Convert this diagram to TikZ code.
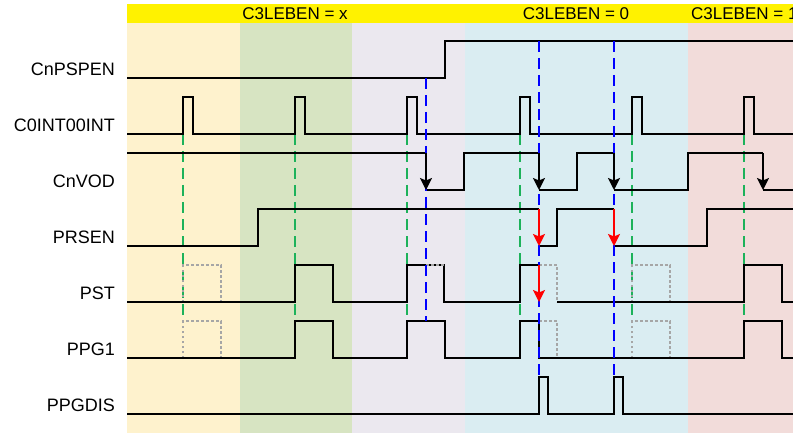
\documentclass[tikz,border=0pt]{standalone}
\usepackage{fontspec}
\setmainfont{Liberation Sans}
\usepackage{xcolor}
\usepackage{tikz}
\usetikzlibrary{arrows.meta}
\definecolor{phaseyellow}{HTML}{FEF2CD}
\definecolor{phasegreen}{HTML}{D7E4C2}
\definecolor{phasepurple}{HTML}{EBE8EF}
\definecolor{phaseblue}{HTML}{DAEDF2}
\definecolor{phasepink}{HTML}{F2DCDA}
\definecolor{tickgreen}{HTML}{1DB25A}
\definecolor{probeblue}{HTML}{0000FF}
\definecolor{ghostgray}{HTML}{A6A6A6}

\begin{document}
\begin{tikzpicture}[
  x=1pt, y=-1pt,
  signal/.style={draw=black, line width=1.8pt, line join=miter},
  fall/.style={signal, -{Stealth[length=12pt, width=12pt, inset=2.5pt]}},
  redfall/.style={fall, draw=red, fill=red},
  tick/.style={draw=tickgreen, line width=1.8pt, dash pattern=on 11pt off 6pt},
  probe/.style={draw=probeblue, line width=1.8pt, dash pattern=on 11pt off 6pt},
  ghost/.style={draw=ghostgray, line width=1.6pt, dash pattern=on 2.5pt off 2.5pt},
  signame/.style={anchor=base east, font=\fontsize{18}{21}\selectfont, inner sep=0pt},
  band/.style={font=\fontsize{17}{20}\selectfont, inner sep=0pt}
]
\useasboundingbox (0,0) rectangle (793,433);
\clip (0,0) rectangle (793,433);
\fill[phaseyellow] (127,4) rectangle (240,433);
\fill[phasegreen] (240,4) rectangle (352,433);
\fill[phasepurple] (352,4) rectangle (465,433);
\fill[phaseblue] (465,4) rectangle (688,433);
\fill[phasepink] (688,4) rectangle (793,433);
\fill[yellow] (127,4) rectangle (793,23);
\node[band] (lebx) at (295,13.5) {C3LEBEN = x};
\node[band] (leb0) at (576,13.5) {C3LEBEN = 0};
\node[band, anchor=west] (leb1) at (691,13.5) {C3LEBEN = 1};

\node[signame] (pspen) at (115,75.5) {CnPSPEN};
\node[signame] (int) at (115,131.5) {C0INT00INT};
\node[signame] (vod) at (115,187.5) {CnVOD};
\node[signame] (prsen) at (115,243.5) {PRSEN};
\node[signame] (pst) at (115,299.5) {PST};
\node[signame] (ppg) at (115,355.5) {PPG1};
\node[signame] (ppgdis) at (115,411.5) {PPGDIS};

\foreach \t in {183,295,407,520,632,744}
  \draw[tick] (\t,134) -- (\t,315);

\draw[ghost] (183,302) -- (183,265) -- (221,265) -- (221,302);
\draw[ghost] (632,302) -- (632,265) -- (670,265) -- (670,302);
\draw[ghost] (183,358) -- (183,321) -- (221,321) -- (221,358);
\draw[ghost] (632,358) -- (632,321) -- (670,321) -- (670,358);
\draw[ghost] (539,265) -- (557,265) -- (557,302);
\draw[ghost] (539,321) -- (557,321) -- (557,358);

\draw[signal] (127,78) -- (445,78) -- (445,41) -- (793,41);
\draw[signal] (127,134)
  \foreach \t in {183,295,407,520,632,744} { -- (\t,134) -- (\t,97) -- ({\t+10},97) -- ({\t+10},134) }
  -- (793,134);
\draw[signal] (127,153) -- (426,153);
\draw[signal] (426,190) -- (464,190) -- (464,153) -- (539,153);
\draw[signal] (539,190) -- (577,190) -- (577,153) -- (614,153);
\draw[signal] (614,190) -- (688,190) -- (688,153) -- (763,153);
\draw[signal] (763,190) -- (793,190);
\draw[signal] (127,246) -- (258,246) -- (258,209) -- (539,209);
\draw[signal] (539,246) -- (557,246) -- (557,209) -- (614,209);
\draw[signal] (614,246) -- (707,246) -- (707,209) -- (793,209);
\draw[signal] (127,302) -- (295,302) -- (295,265) -- (333,265) -- (333,302) -- (407,302)
  -- (407,265) -- (444,265) -- (444,302) -- (520,302) -- (520,265) -- (539,265);
\draw[signal] (557,302) -- (744,302) -- (744,265) -- (782,265) -- (782,302) -- (793,302);
\draw[ghost] (426,265) -- (444,265);
\draw[signal] (127,358) -- (295,358) -- (295,321) -- (333,321) -- (333,358) -- (407,358)
  -- (407,321) -- (445,321) -- (445,358) -- (520,358) -- (520,321) -- (539,321)
  -- (539,358) -- (744,358) -- (744,321) -- (782,321) -- (782,358) -- (793,358);
\draw[signal] (127,414) -- (539,414) -- (539,377) -- (548,377) -- (548,414) -- (614,414)
  -- (614,377) -- (623,377) -- (623,414) -- (793,414);

\draw[probe] (426,78) -- (426,321);
\draw[probe] (539,41) -- (539,377);
\draw[probe] (614,41) -- (614,377);

\foreach \t in {426,539,614,763}
  \draw[fall] (\t,153) -- (\t,190);
\draw[redfall] (539,209) -- (539,246);
\draw[redfall] (614,209) -- (614,246);
\draw[redfall] (539,265) -- (539,302);
\end{tikzpicture}
\end{document}
